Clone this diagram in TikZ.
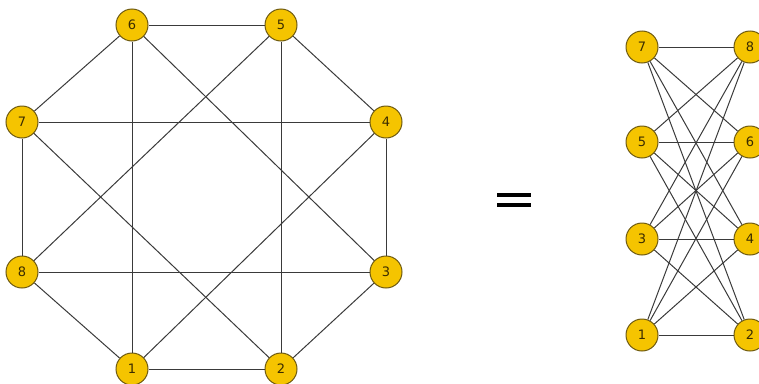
\documentclass[tikz,border=0pt]{standalone}
\usepackage{fontspec}
\setmainfont{DejaVu Sans}
\definecolor{vfill}{HTML}{F5C400}
\definecolor{vdraw}{HTML}{6E5A10}
\definecolor{vtext}{HTML}{3A2C00}
\definecolor{edgec}{HTML}{3A3A3A}
\tikzset{
  vert/.style={circle, fill=vfill, draw=vdraw, line width=1pt, minimum size=32pt, inner sep=0pt, text=vtext, font=\fontsize{13}{13}\selectfont},
  edge/.style={draw=edgec, line width=1pt},
  eqbar/.style={draw=black, line width=4pt}
}
\begin{document}
\begin{tikzpicture}[x=1pt,y=-1pt]
\useasboundingbox (0,0) rectangle (759,383);
% left octagon graph
\node[vert] (L6) at (132,25) {6};
\node[vert] (L5) at (281,25) {5};
\node[vert] (L7) at (22,122) {7};
\node[vert] (L4) at (386,122) {4};
\node[vert] (L8) at (22,272) {8};
\node[vert] (L3) at (386,272) {3};
\node[vert] (L1) at (132,369) {1};
\node[vert] (L2) at (281,369) {2};
\foreach \a/\b in {1/2,2/3,3/4,4/5,5/6,6/7,7/8,8/1,6/1,5/2,7/4,8/3,6/3,7/2,5/8,4/1}
  \draw[edge] (L\a) -- (L\b);
% equals sign
\coordinate (e1) at (497,194.5);
\coordinate (e2) at (531,194.5);
\coordinate (e3) at (497,204.5);
\coordinate (e4) at (531,204.5);
\draw[eqbar] (e1) -- (e2);
\draw[eqbar] (e3) -- (e4);
% right bipartite graph
\node[vert] (R7) at (642,47) {7};
\node[vert] (R8) at (750,47) {8};
\node[vert] (R5) at (642,142) {5};
\node[vert] (R6) at (750,142) {6};
\node[vert] (R3) at (642,239) {3};
\node[vert] (R4) at (750,239) {4};
\node[vert] (R1) at (642,335) {1};
\node[vert] (R2) at (750,335) {2};
\foreach \a in {1,3,5,7}
  \foreach \b in {2,4,6,8}
    \draw[edge] (R\a) -- (R\b);
\end{tikzpicture}
\end{document}
